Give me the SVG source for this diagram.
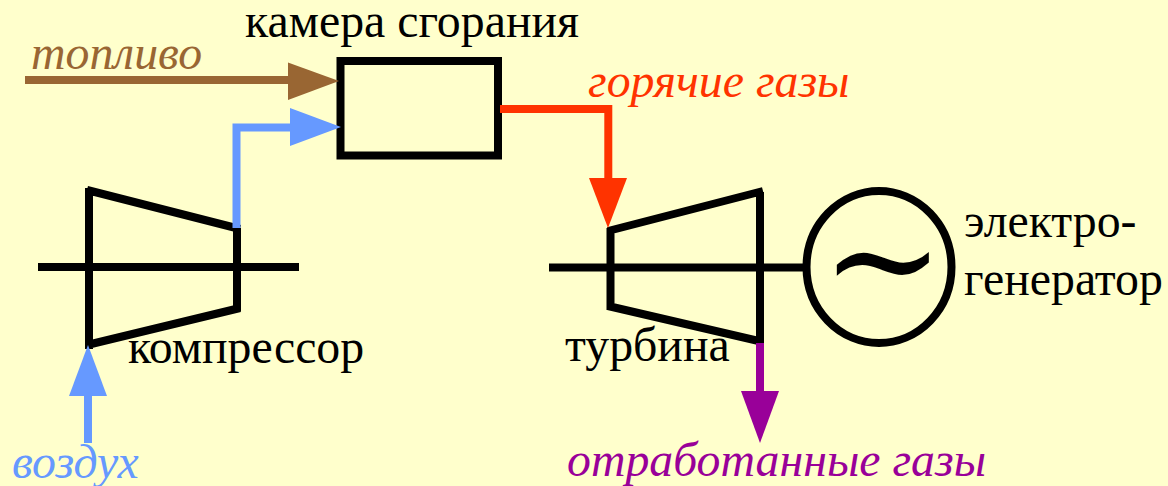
<svg xmlns="http://www.w3.org/2000/svg" width="1168" height="486" viewBox="0 0 1168 486">
<style>
text{font-family:"Liberation Serif","Times New Roman",serif;font-size:47.8px;fill:#000}
.i{font-style:italic}
.k{fill:none;stroke:#000;stroke-width:8}
.l{fill:none;stroke-width:8}
</style>
<rect width="1168" height="486" fill="#ffffcc"/>
<g id="shaft-left"><path class="k" d="M38 267H299"/></g>
<g id="shaft-right"><path class="k" d="M549 267.5H805"/></g>
<g id="combustor"><rect class="k" x="340.5" y="61" width="157.5" height="94.5"/><text x="245" y="37">камера сгорания</text></g>
<g id="compressor"><path class="k" d="M89 188V349M87 190L240 229M237 228V311M87 345L240 308"/><text x="128" y="363">компрессор</text></g>
<g id="turbine"><path class="k" d="M610.5 228V310M608 231L763 191M760 192V344M608 306L763 342"/><text x="565" y="361">турбина</text></g>
<g id="generator"><ellipse class="k" cx="879" cy="267" rx="72.5" ry="76"/><text x="821.3" y="309.5" style="font-family:'DejaVu Serif',serif;font-size:147px">~</text><text x="964" y="237">электро-</text><text x="964" y="295">генератор</text></g>
<g id="connectors">
<path class="l" d="M25 80H295" stroke="#996633"/>
<polygon points="288,62.5 339,81 288,100" fill="#996633"/>
<path class="l" d="M236.5 228V127.5H295" stroke="#6699ff"/>
<polygon points="290,108 341,127 290,146" fill="#6699ff"/>
<path class="l" d="M500 109H608.3V185" stroke="#ff3300"/>
<polygon points="589,178 627,178 608,228" fill="#ff3300"/>
<path class="l" d="M88 443V390" stroke="#6699ff"/>
<polygon points="69,396 107,396 88,345" fill="#6699ff"/>
<path class="l" d="M760 343V395" stroke="#990099"/>
<polygon points="741,391 779,391 760,443" fill="#990099"/>
</g>
<g id="label-fuel"><text class="i" x="31" y="69" style="fill:#996633">топливо</text></g>
<g id="label-hot"><text class="i" x="588" y="97" style="fill:#ff3300">горячие газы</text></g>
<g id="label-air"><text class="i" x="12" y="478" style="fill:#6699ff">воздух</text></g>
<g id="label-exhaust"><text class="i" x="567" y="476" style="fill:#990099">отработанные газы</text></g>
</svg>
